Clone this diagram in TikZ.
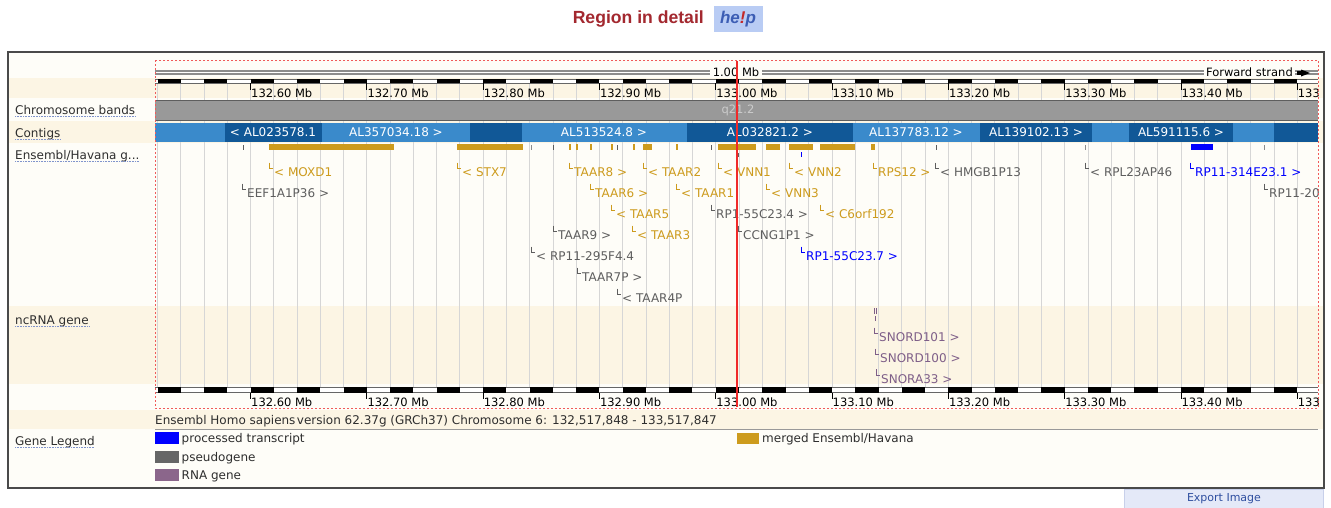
\documentclass[tikz,border=0pt]{standalone}
\usepackage{fontspec}
\setmainfont{DejaVu Sans}
\newfontfamily\titlefont{Liberation Sans}

\definecolor{titlered}{HTML}{A3282F}
\definecolor{helpbg}{HTML}{B9CCF4}
\definecolor{helpblue}{HTML}{3C5DB4}
\definecolor{helpred}{HTML}{C42828}
\definecolor{paper}{HTML}{FEFDF8}
\definecolor{cream}{HTML}{FCF5E4}
\definecolor{panelborder}{HTML}{4A4A4A}
\definecolor{gridcol}{HTML}{D6D6D6}
\definecolor{bandgray}{HTML}{999999}
\definecolor{bandedge}{HTML}{5E5E5E}
\definecolor{contiglight}{HTML}{3A8ACB}
\definecolor{contigdark}{HTML}{115897}
\definecolor{merged}{HTML}{CD9B1D}
\definecolor{pseudo}{HTML}{5E5E5E}
\definecolor{pseudoswatch}{HTML}{666666}
\definecolor{procblue}{HTML}{0000FF}
\definecolor{rnatext}{HTML}{7E5E88}
\definecolor{rnaswatch}{HTML}{8B668B}
\definecolor{dashred}{HTML}{F05A5A}
\definecolor{posred}{HTML}{F02A2A}
\definecolor{labeltext}{HTML}{2E2E2E}
\definecolor{underline}{HTML}{8094CC}
\definecolor{exportbg}{HTML}{E4E9F8}
\definecolor{exportedge}{HTML}{C8D0EA}
\definecolor{exportblue}{HTML}{2F4FA0}

% gene label: marker corner plus the gene name
% #1 node name, #2 x of the corner, #3 baseline, #4 colour, #5 text
\newcommand\genelabel[5]{%
  \draw[#4, line width=0.8pt] (#2,#3-14) -- (#2,#3-8) -- (#2+4,#3-8);
  \node[glab, text=#4, anchor=base west] (#1) at (#2+5,#3) {#5};
}
% track name with dotted underline: #1 node name, #2 baseline, #3 text
\newcommand\trackname[3]{%
  \node[leftlab, anchor=base west] (#1) at (15,#2) {#3};
  \draw[underline, line width=0.7pt, dash pattern=on 0.8pt off 0.8pt] ([yshift=-2pt]#1.base west) -- ([yshift=-2pt]#1.base east);
}

\begin{document}
\begin{tikzpicture}[x=1pt,y=-1pt,
  glab/.style={font=\fontsize{12}{14}\selectfont, inner sep=0pt},
  rul/.style={font=\fontsize{11.5}{14}\selectfont, inner sep=0pt, text=black},
  leftlab/.style={font=\fontsize{12}{14}\selectfont, inner sep=0pt, text=labeltext},
  contiglab/.style={font=\fontsize{12}{14}\selectfont, inner sep=0pt, text=white},
  legtext/.style={font=\fontsize{12}{14}\selectfont, inner sep=0pt, text=labeltext, anchor=base west},
]
\useasboundingbox (0,0) rectangle (1331,507);
\fill[white] (0,0) rectangle (1331,507);

% heading
\node[font=\titlefont\bfseries\fontsize{17.6}{20}\selectfont, text=titlered, anchor=east, inner sep=0pt] (title) at (704,18.5) {Region in detail};
\node[fill=helpbg, minimum width=49pt, minimum height=26pt, inner sep=0pt,
      font=\titlefont\bfseries\itshape\fontsize{17}{20}\selectfont] (help) at (738,19)
      {\textcolor{helpblue}{he}\textcolor{helpred}{!}\textcolor{helpblue}{p}};

% panel and row stripes
\draw[panelborder, line width=1.6pt, fill=paper] (8,52) rectangle (1324,488);
\fill[cream] (9,78) rectangle (1323,98);
\fill[cream] (9,121) rectangle (1323,143);
\fill[cream] (9,306) rectangle (1323,384);
\fill[cream] (9,410) rectangle (1323,429);

% grid every 20 kb
\foreach \k in {0,...,49}
  \draw[gridcol, line width=0.8pt] ({157.5+23.26*\k},84) -- ({157.5+23.26*\k},387);

\begin{scope}
\clip (155,55) rectangle (1318,412);

% top scale line
\draw[line width=4.6pt, black!45] (155,72.5) -- (1318,72.5);
\draw[line width=1.4pt, white] (155,72.5) -- (1318,72.5);
\node[rul, fill=paper, inner xsep=3pt, inner ysep=2pt] (span) at (736,72) {1.00 Mb};
\node[rul, fill=paper, inner xsep=2pt, inner ysep=2pt, anchor=east] (strand) at (1295,72) {Forward strand};
\fill[black] (1297,71) rectangle (1302,75);
\fill[black] (1301,69.5) -- (1310,73) -- (1301,76.5) -- cycle;

% scale bars (top and bottom)
\foreach \ya/\yb in {79.3/83.3, 387.3/392.5} {
  \fill[white] (155,\ya) rectangle (1318,\yb);
  \draw[black!60, line width=0.5pt] (155,\ya) -- (1318,\ya) (155,\yb) -- (1318,\yb);
  \foreach \k in {0,2,...,48}
    \fill[black] ({157.5+23.26*\k},\ya) rectangle ({157.5+23.26*(\k+1)},\yb);
}
\foreach \lab [count=\i from 0] in {132.60 Mb,132.70 Mb,132.80 Mb,132.90 Mb,133.00 Mb,133.10 Mb,133.20 Mb,133.30 Mb,133.40 Mb,133} {
  \draw[black, line width=0.7pt] ({250.5+116.3*\i},83.3) -- ({250.5+116.3*\i},90);
  \node[rul, anchor=base west] (rtop\i) at ({251+116.3*\i},97.5) {\lab};
  \draw[black, line width=0.7pt] ({250.5+116.3*\i},392.5) -- ({250.5+116.3*\i},399);
  \node[rul, anchor=base west] (rbot\i) at ({251+116.3*\i},406.5) {\lab};
}

% chromosome band
\fill[bandgray] (155,100) rectangle (1318,120);
\draw[bandedge, line width=0.8pt] (155,100) -- (1318,100) (155,120) -- (1318,120);
\node[font=\fontsize{11.5}{14}\selectfont, text=black!20, inner sep=0pt] (band) at (738,110) {q21.2};

% contigs
\fill[contiglight] (155,123) rectangle (1318,142);
\foreach \a/\b in {225/322, 470/522, 687/853, 980/1092, 1129/1233, 1274/1318}
  \fill[contigdark] (\a,123) rectangle (\b,142);
\node[contiglab] (c1) at (273,132.5) {< AL023578.1};
\node[contiglab] (c2) at (396,132.5) {AL357034.18 >};
\node[contiglab] (c3) at (604,132.5) {AL513524.8 >};
\node[contiglab] (c4) at (770,132.5) {AL032821.2 >};
\node[contiglab] (c5) at (916,132.5) {AL137783.12 >};
\node[contiglab] (c6) at (1036,132.5) {AL139102.13 >};
\node[contiglab] (c7) at (1181,132.5) {AL591115.6 >};

% gene features
\foreach \a/\b in {269/394, 457/523, 569/571, 576/578, 589.5/592, 610.5/613, 632.5/635, 643/652,
                   675.5/678, 718/756, 766/780, 789/813, 820/855, 871/875}
  \fill[merged] (\a,144) rectangle (\b,150);
\foreach \a in {242.5, 552.5, 616.5, 710.5, 935.5}
  \fill[pseudo] (\a,145) rectangle (\a+1.6,150);
\foreach \a in {530.5, 1085, 1264}
  \fill[black!45] (\a,145) rectangle (\a+1.2,150);
\fill[procblue] (1191,144) rectangle (1213,150);
\fill[procblue] (800.5,152) rectangle (802,157);
\fill[pseudo] (737.5,153) rectangle (738.8,157);

% gene names
\genelabel{gMOXD1}{269}{176.5}{merged}{< MOXD1}
\genelabel{gSTX7}{457}{176.5}{merged}{< STX7}
\genelabel{gTAAR8}{569}{176.5}{merged}{TAAR8 >}
\genelabel{gTAAR2}{643}{176.5}{merged}{< TAAR2}
\genelabel{gVNN1}{718}{176.5}{merged}{< VNN1}
\genelabel{gVNN2}{789}{176.5}{merged}{< VNN2}
\genelabel{gRPS12}{873}{176.5}{merged}{RPS12 >}
\genelabel{gHMGB}{935}{176.5}{pseudo}{< HMGB1P13}
\genelabel{gRPL}{1085}{176.5}{pseudo}{< RPL23AP46}
\genelabel{gRP11a}{1190}{176.5}{procblue}{RP11-314E23.1 >}

\genelabel{gEEF}{242}{197.5}{pseudo}{EEF1A1P36 >}
\genelabel{gTAAR6}{590}{197.5}{merged}{TAAR6 >}
\genelabel{gTAAR1}{676}{197.5}{merged}{< TAAR1}
\genelabel{gVNN3}{766}{197.5}{merged}{< VNN3}
\genelabel{gRP11b}{1264}{197.5}{pseudo}{RP11-20}

\genelabel{gTAAR5}{611}{218.5}{merged}{< TAAR5}
\genelabel{gRP1a}{711}{218.5}{pseudo}{RP1-55C23.4 >}
\genelabel{gC6}{820}{218.5}{merged}{< C6orf192}

\genelabel{gTAAR9}{553}{239.5}{pseudo}{TAAR9 >}
\genelabel{gTAAR3}{632}{239.5}{merged}{< TAAR3}
\genelabel{gCCNG}{738}{239.5}{pseudo}{CCNG1P1 >}

\genelabel{gRP11c}{531}{260.5}{pseudo}{< RP11-295F4.4}
\genelabel{gRP1b}{801}{260.5}{procblue}{RP1-55C23.7 >}

\genelabel{gTAAR7P}{577}{281.5}{pseudo}{TAAR7P >}
\genelabel{gTAAR4P}{617}{302.5}{pseudo}{< TAAR4P}

% ncRNA genes
\draw[rnatext, line width=0.8pt] (874,308) -- (874,314) (876.5,308) -- (876.5,314) (875,316) -- (875,321);
\genelabel{gSNORD101}{874}{341.5}{rnatext}{SNORD101 >}
\genelabel{gSNORD100}{875}{362.5}{rnatext}{SNORD100 >}
\genelabel{gSNORA33}{876}{383}{rnatext}{SNORA33 >}
\end{scope}

% selected region frame and centre line
\draw[dashred, line width=0.9pt, dash pattern=on 2pt off 2pt] (155,60) rectangle (1318,408);
\draw[posred, line width=1.1pt] (737,61) -- (737,407);

% track names
\trackname{lchr}{114.5}{Chromosome bands}
\trackname{lcon}{137.5}{Contigs}
\trackname{lens}{159.5}{Ensembl/Havana g...}
\trackname{lnc}{324}{ncRNA gene}
\trackname{lleg}{445.5}{Gene Legend}

% footer line and legend
\node[legtext] (info) at (155,424.5) {Ensembl Homo sapiens\kern0.12em version 62.37g (GRCh37) Chromosome 6: 132,517,848 - 133,517,847};
\draw[black!40, line width=0.8pt] (155,429.5) -- (1318,429.5);
\fill[procblue] (155,432) rectangle (179,444);
\fill[pseudoswatch] (155,451) rectangle (179,463);
\fill[rnaswatch] (155,469) rectangle (179,481);
\fill[merged] (737,433) rectangle (759,444);
\node[legtext] (lp) at (181.5,442.5) {processed transcript};
\node[legtext] (ls) at (181.5,461) {pseudogene};
\node[legtext] (lr) at (181.5,479) {RNA gene};
\node[legtext] (lm) at (762,442.5) {merged Ensembl/Havana};

% export button
\node[fill=exportbg, draw=exportedge, line width=0.6pt, minimum width=199pt, minimum height=19pt, inner sep=0pt,
      text=exportblue, font=\fontsize{11}{13}\selectfont] (export) at (1224,499) {Export Image};
\end{tikzpicture}
\end{document}
